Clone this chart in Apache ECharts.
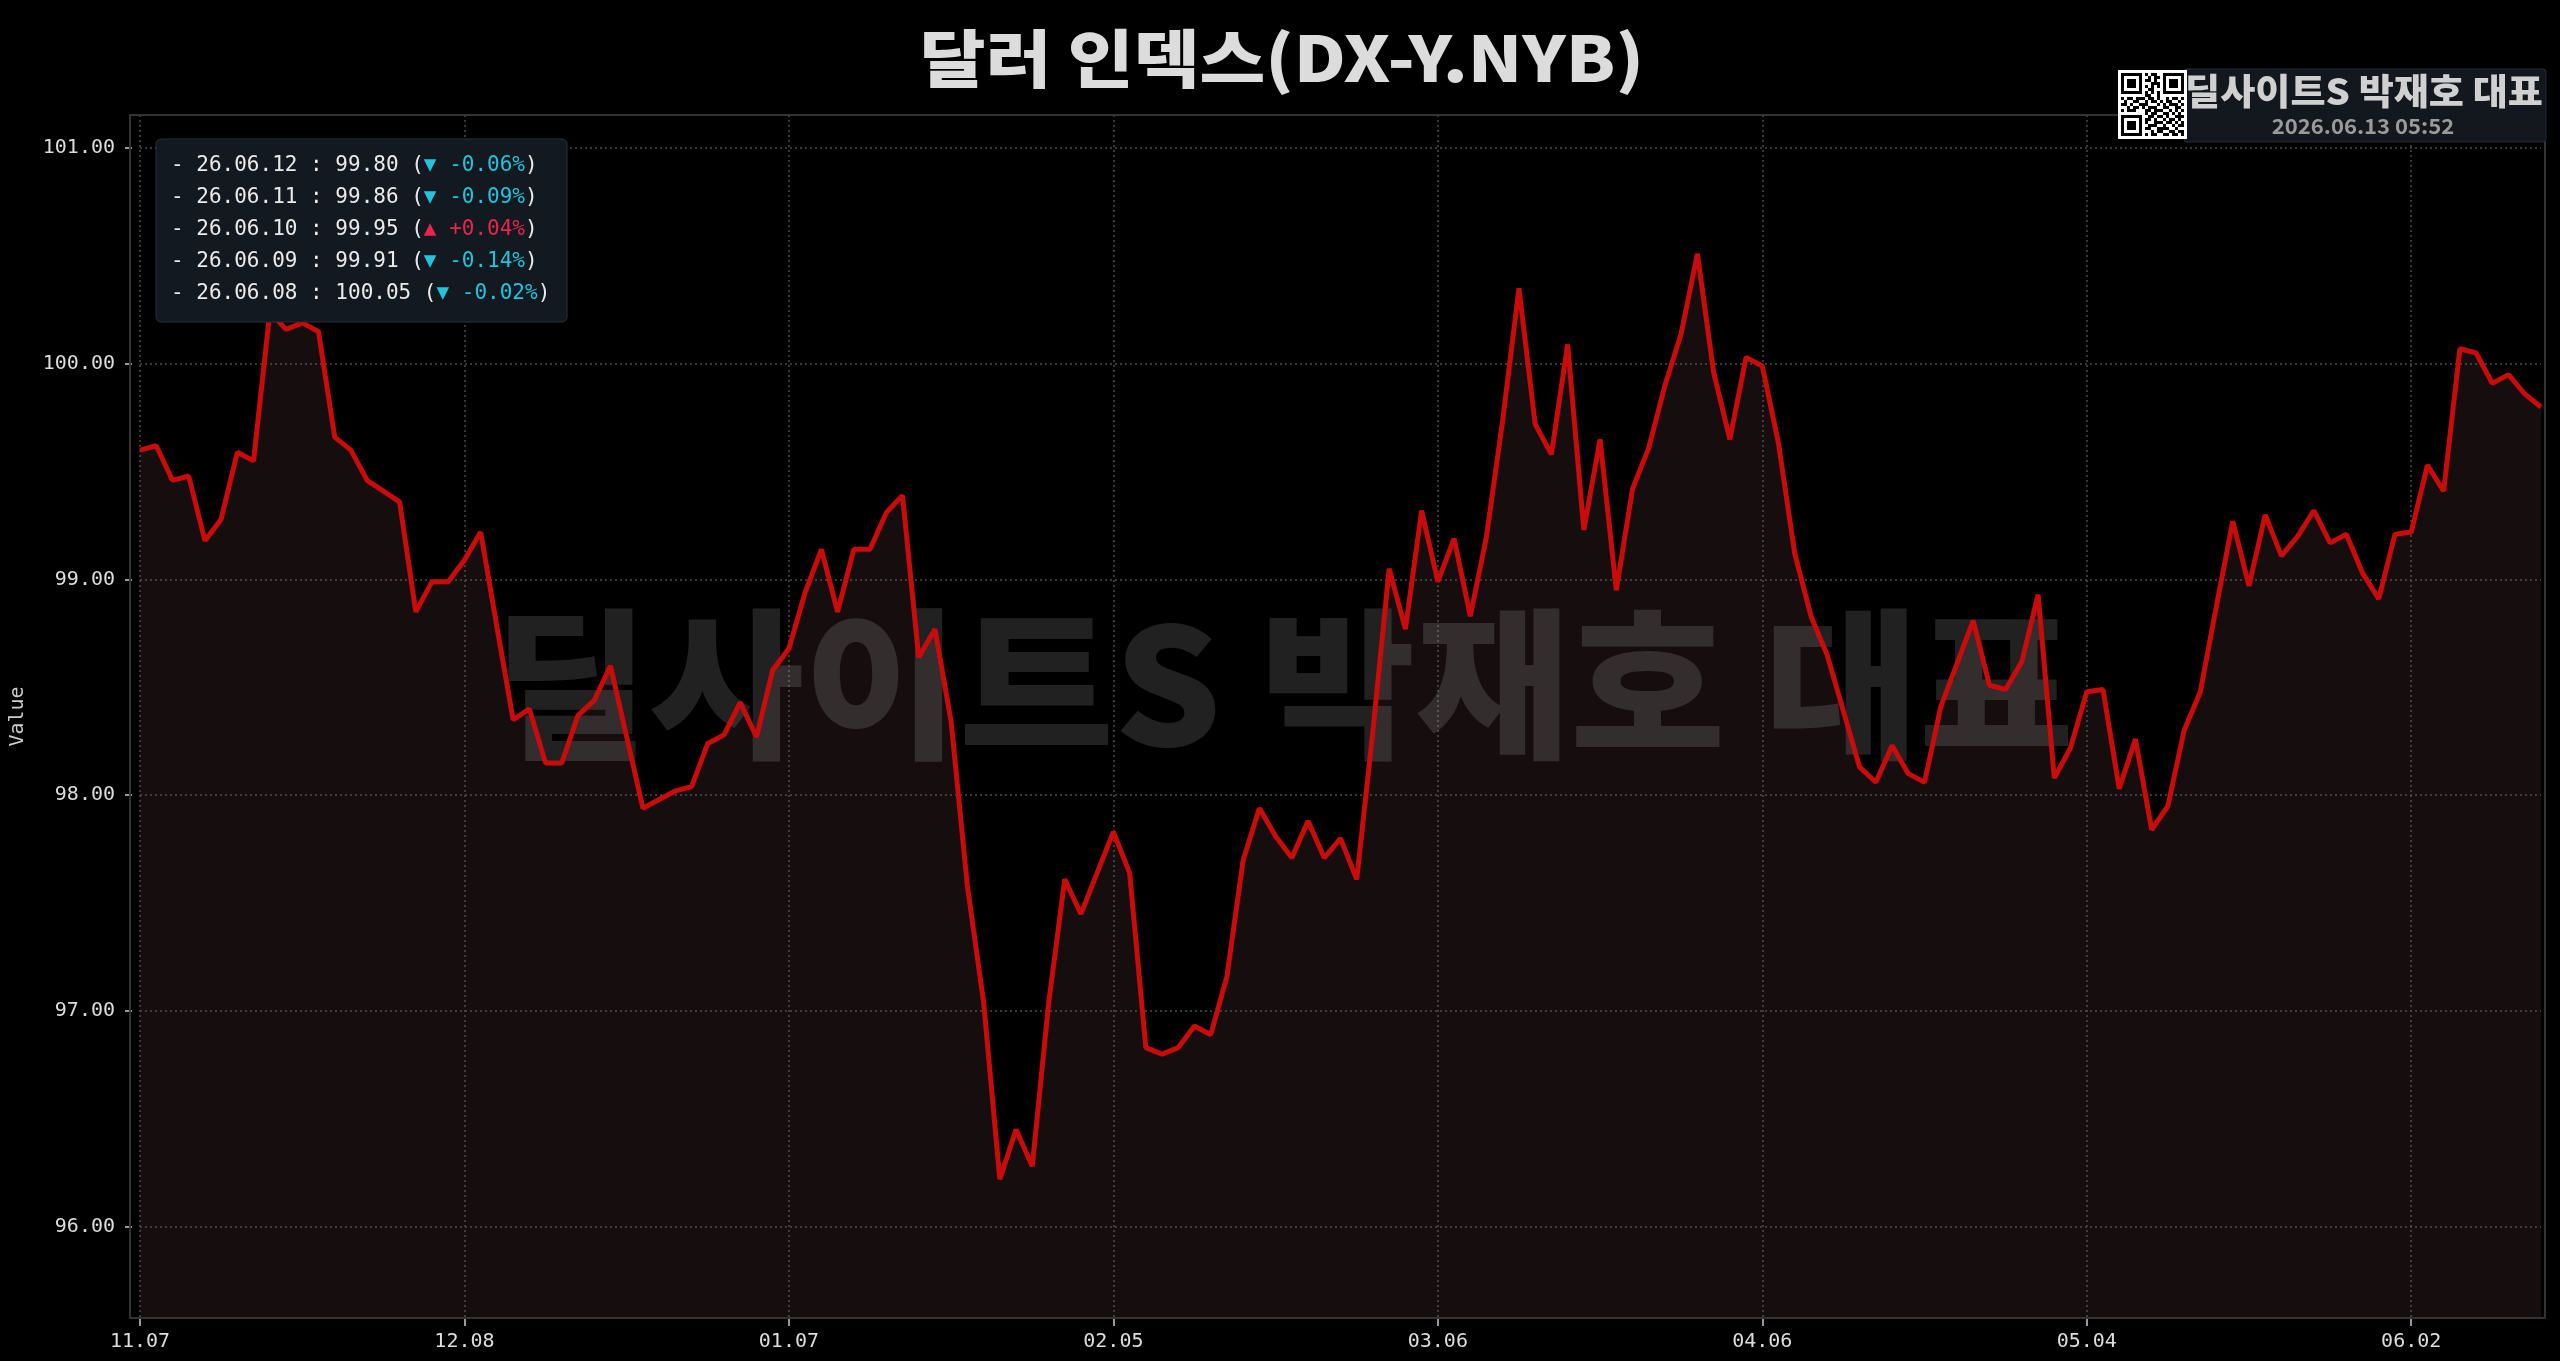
<!DOCTYPE html>
<html><head><meta charset="utf-8">
<script src="https://cdn.jsdelivr.net/npm/echarts@6/dist/echarts.min.js"></script>
<style>html,body{margin:0;padding:0;background:#000;}#c{width:2560px;height:1361px;}</style>
</head><body><div id="c"></div>
<script>
const titleText = '달러 인덱스(DX-Y.NYB)';
const brandText = '딜사이트S 박재호 대표';
const stampText = '2026.06.13 05:52';

const dates = [
'25.11.07','25.11.10','25.11.11','25.11.12','25.11.13','25.11.14','25.11.17','25.11.18','25.11.19','25.11.20','25.11.21','25.11.24','25.11.25','25.11.26','25.11.28',
'25.12.01','25.12.02','25.12.03','25.12.04','25.12.05','25.12.08','25.12.09','25.12.10','25.12.11','25.12.12','25.12.15','25.12.16','25.12.17','25.12.18','25.12.19','25.12.22','25.12.23','25.12.24','25.12.26','25.12.29','25.12.30','25.12.31',
'26.01.02','26.01.05','26.01.06','26.01.07','26.01.08','26.01.09','26.01.12','26.01.13','26.01.14','26.01.15','26.01.16','26.01.20','26.01.21','26.01.22','26.01.23','26.01.26','26.01.27','26.01.28','26.01.29','26.01.30',
'26.02.02','26.02.03','26.02.04','26.02.05','26.02.06','26.02.09','26.02.10','26.02.11','26.02.12','26.02.13','26.02.17','26.02.18','26.02.19','26.02.20','26.02.23','26.02.24','26.02.25','26.02.26','26.02.27',
'26.03.02','26.03.03','26.03.04','26.03.05','26.03.06','26.03.09','26.03.10','26.03.11','26.03.12','26.03.13','26.03.16','26.03.17','26.03.18','26.03.19','26.03.20','26.03.23','26.03.24','26.03.25','26.03.26','26.03.27','26.03.30','26.03.31',
'26.04.01','26.04.02','26.04.06','26.04.07','26.04.08','26.04.09','26.04.10','26.04.13','26.04.14','26.04.15','26.04.16','26.04.17','26.04.20','26.04.21','26.04.22','26.04.23','26.04.24','26.04.27','26.04.28','26.04.29','26.04.30',
'26.05.01','26.05.04','26.05.05','26.05.06','26.05.07','26.05.08','26.05.11','26.05.12','26.05.13','26.05.14','26.05.15','26.05.18','26.05.19','26.05.20','26.05.21','26.05.22','26.05.26','26.05.27','26.05.28','26.05.29',
'26.06.01','26.06.02','26.06.03','26.06.04','26.06.05','26.06.08','26.06.09','26.06.10','26.06.11','26.06.12'
];

const values = [
99.60, 99.62, 99.46, 99.48, 99.18, 99.28, 99.59, 99.55, 100.24, 100.16,
100.19, 100.15, 99.66, 99.60, 99.46, 99.41, 99.36, 98.85, 98.99, 98.99,
99.09, 99.22, 98.78, 98.35, 98.40, 98.15, 98.15, 98.37, 98.44, 98.60,
98.27, 97.94, 97.98, 98.02, 98.04, 98.24, 98.28, 98.43, 98.27, 98.58,
98.68, 98.94, 99.14, 98.85, 99.14, 99.14, 99.31, 99.39, 98.64, 98.77,
98.34, 97.58, 97.04, 96.22, 96.45, 96.28, 97.03, 97.61, 97.45, 97.64,
97.83, 97.64, 96.83, 96.80, 96.83, 96.93, 96.89, 97.16, 97.70, 97.94,
97.81, 97.71, 97.88, 97.71, 97.80, 97.61, 98.30, 99.05, 98.77, 99.32,
98.99, 99.19, 98.83, 99.20, 99.74, 100.35, 99.72, 99.58, 100.09, 99.23,
99.65, 98.95, 99.42, 99.61, 99.90, 100.14, 100.51, 99.96, 99.65, 100.03,
99.99, 99.63, 99.12, 98.83, 98.65, 98.39, 98.13, 98.06, 98.23, 98.10,
98.06, 98.41, 98.61, 98.81, 98.51, 98.49, 98.62, 98.93, 98.08, 98.22,
98.48, 98.49, 98.03, 98.26, 97.84, 97.95, 98.30, 98.48, 98.88, 99.27,
98.97, 99.30, 99.11, 99.20, 99.32, 99.17, 99.21, 99.03, 98.91, 99.21,
99.22, 99.53, 99.41, 100.07, 100.05, 99.91, 99.95, 99.86, 99.80
];

const yTickValues = [96, 97, 98, 99, 100, 101];

// decorative QR-like badge pattern
const qrRows = [
'111111101011001111111',
'100000100101101000001',
'101110101101001011101',
'101110100011101011101',
'101110101010101011101',
'100000100110001000001',
'111111101010101111111',
'000000001100100000000',
'101101110110100101101',
'010011001011010110010',
'110100111000101011101',
'001011010111001100110',
'101110001101110010101',
'000000001011001101010',
'111111100110110100111',
'100000101101001011010',
'101110101001110110101',
'101110100111001001011',
'101110101100111100100',
'100000100010110011011',
'111111101011001101101'
];

const dataMin = Math.min(...values), dataMax = Math.max(...values);
const pad = (dataMax - dataMin) * 0.15;

const MONO = '"DejaVu Sans Mono", monospace';
const KR = '"Noto Sans CJK KR", sans-serif';

// recent 5 entries box
const lines = [];
for (let k = 0; k < 5; k++) {
  const i = values.length - 1 - k;
  const pct = (values[i] - values[i - 1]) / values[i - 1] * 100;
  const up = pct > 0;
  const pctStr = (up ? '+' : '') + pct.toFixed(2) + '%';
  lines.push('{w|- ' + dates[i] + ' : ' + values[i].toFixed(2) + ' (}' +
    (up ? '{u|▲ ' + pctStr + '}' : '{d|▼ ' + pctStr + '}') + '{w|)}');
}

const graphics = [];
// title
graphics.push({type:'text', x:1282, y:58, scaleX:1.135, z:10, style:{text:titleText, align:'center', verticalAlign:'middle', textAlign:'center', textVerticalAlign:'middle', fontSize:63, fontWeight:900, fontFamily:KR, fill:'#dcdcdc'}});
// watermark
graphics.push({type:'text', x:1284, y:684, scaleX:1.04, z:1, style:{text:brandText, align:'center', verticalAlign:'middle', textAlign:'center', textVerticalAlign:'middle', fontSize:162, fontWeight:900, fontFamily:KR, fill:'rgba(255,255,255,0.13)'}});
// plot border
graphics.push({type:'rect', z:5, shape:{x:130, y:115, width:2415, height:1203}, style:{fill:'none', stroke:'#333', lineWidth:2}});
// recent box
graphics.push({type:'rect', z:10, shape:{x:156, y:139, width:411, height:183, r:5}, style:{fill:'#131920', stroke:'#2a3038', lineWidth:1}});
lines.forEach((t, k) => {
  graphics.push({type:'text', z:11, x:171, y:166 + k*32, style:{text:t, verticalAlign:'middle', textVerticalAlign:'middle', fontSize:21, fontFamily:MONO,
    rich:{w:{fill:'#eaeaea', color:'#eaeaea', fontSize:21, fontFamily:MONO}, d:{fill:'#22c3dd', color:'#22c3dd', fontSize:21, fontFamily:MONO}, u:{fill:'#e8264c', color:'#e8264c', fontSize:21, fontFamily:MONO}}}});
});
// badge
graphics.push({type:'rect', z:10, shape:{x:2184, y:69, width:362, height:73, r:3}, style:{fill:'#13181f', stroke:'#252b33', lineWidth:1}});
graphics.push({type:'rect', z:10, shape:{x:2118, y:70, width:69, height:69}, style:{fill:'#ffffff'}});
qrRows.forEach((row, r) => {
  for (let c = 0; c < row.length; c++) {
    if (row[c] === '1') graphics.push({type:'rect', z:11, shape:{x:2121 + c*3, y:73 + r*3, width:3, height:3}, style:{fill:'#000'}});
  }
});
graphics.push({type:'text', z:11, x:2364, y:91, scaleX:1.06, style:{text:brandText, align:'center', verticalAlign:'middle', textAlign:'center', textVerticalAlign:'middle', fontSize:36, fontWeight:900, fontFamily:KR, fill:'#d0d0d0'}});
graphics.push({type:'text', z:11, x:2363, y:126, scaleX:1.05, style:{text:stampText, align:'center', verticalAlign:'middle', textAlign:'center', textVerticalAlign:'middle', fontSize:21, fontWeight:'bold', fontFamily:KR, fill:'#9a9a9a'}});

const chart = echarts.init(document.getElementById('c'), null, {renderer:'canvas'});
chart.setOption({
  backgroundColor:'#000',
  animation:false,
  grid:{left:138, right:19, top:115, bottom:43, containLabel:false},
  xAxis:{
    type:'category', data:dates, boundaryGap:false,
    axisLine:{show:false},
    axisTick:{show:true, interval:19, length:8, lineStyle:{color:'#cccccc', width:1.5}},
    axisLabel:{interval:19, color:'#dddddd', fontSize:20, fontFamily:MONO, margin:14, formatter:v => v.slice(3)},
    splitLine:{show:true, interval:19, lineStyle:{color:'#4d4d4d', width:1.5, type:[2,3]}}
  },
  yAxis:{
    type:'value', min:dataMin - pad, max:dataMax + pad, offset:8,
    name:'Value', nameLocation:'middle', nameRotate:90, nameGap:104,
    nameTextStyle:{color:'#cccccc', fontSize:20, fontFamily:MONO},
    axisLine:{show:false},
    axisTick:{show:true, length:7, customValues:yTickValues, lineStyle:{color:'#cccccc', width:1.5}},
    axisLabel:{color:'#dddddd', fontSize:20, fontFamily:MONO, margin:17, customValues:yTickValues, formatter:v => v.toFixed(2)},
    splitLine:{show:true, lineStyle:{color:'#4d4d4d', width:1.5, type:[2,3]}}
  },
  graphic:{elements:graphics},
  series:[
    {type:'line', data:values, symbol:'none', z:-1, silent:true,
     lineStyle:{width:0, opacity:0}, areaStyle:{color:'rgba(62,40,40,0.5)'}},
    {type:'line', data:values, symbol:'none', z:3,
     lineStyle:{width:5, color:'#c80c0c'}}
  ]
});
</script>
</body></html>
